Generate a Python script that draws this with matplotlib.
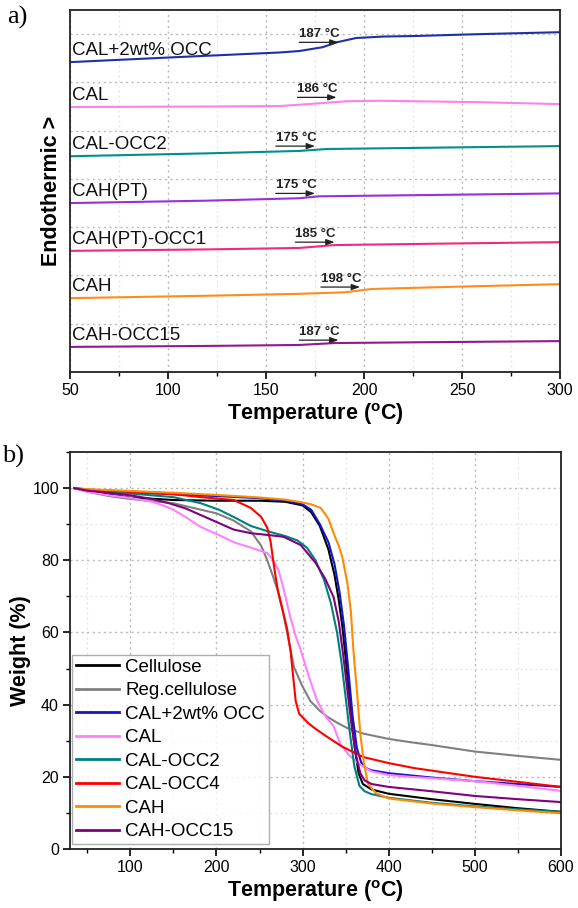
import matplotlib
matplotlib.use("Agg")
import matplotlib.pyplot as plt
from matplotlib.ticker import MultipleLocator

plt.rcParams['font.family'] = ['Liberation Sans', 'DejaVu Sans']
plt.rcParams['mathtext.fontset'] = 'custom'
plt.rcParams['mathtext.rm'] = 'Liberation Sans'
plt.rcParams['mathtext.bf'] = 'Liberation Sans:bold'

# ---------------- DSC (panel a) ----------------
dsc_labels = ["CAL+2wt% OCC", "CAL", "CAL-OCC2", "CAH(PT)", "CAH(PT)-OCC1", "CAH", "CAH-OCC15"]
dsc_colors = ["#1f2fa6", "#ff7ff0", "#008f8a", "#9a2fd8", "#f5267f", "#ff8c1a", "#8e1a8e"]

dsc_T_cal2occ = [50, 108, 157, 167, 179, 186, 196, 210, 225, 259, 300]
dsc_y_cal2occ = [6.42, 6.53, 6.62, 6.65, 6.73, 6.83, 6.92, 6.95, 6.96, 7.00, 7.04]
dsc_T_cal = [50, 120, 157, 175, 191, 208, 259, 300]
dsc_y_cal = [5.49, 5.50, 5.51, 5.56, 5.61, 5.62, 5.59, 5.55]
dsc_T_calocc2 = [50, 120, 167, 181, 240, 300]
dsc_y_calocc2 = [4.47, 4.53, 4.58, 4.62, 4.65, 4.68]
dsc_T_cahpt = [50, 120, 167, 177, 240, 300]
dsc_y_cahpt = [3.50, 3.55, 3.60, 3.64, 3.67, 3.70]
dsc_T_cahptocc1 = [50, 120, 167, 185, 240, 300]
dsc_y_cahptocc1 = [2.51, 2.54, 2.57, 2.63, 2.66, 2.69]
dsc_T_cah = [50, 120, 167, 190, 204, 250, 300]
dsc_y_cah = [1.53, 1.58, 1.62, 1.65, 1.72, 1.77, 1.82]
dsc_T_cahocc15 = [50, 120, 167, 185, 240, 300]
dsc_y_cahocc15 = [0.52, 0.54, 0.56, 0.60, 0.62, 0.64]

dsc_T = [dsc_T_cal2occ, dsc_T_cal, dsc_T_calocc2, dsc_T_cahpt, dsc_T_cahptocc1, dsc_T_cah, dsc_T_cahocc15]
dsc_y = [dsc_y_cal2occ, dsc_y_cal, dsc_y_calocc2, dsc_y_cahpt, dsc_y_cahptocc1, dsc_y_cah, dsc_y_cahocc15]

tg_values = [187, 186, 175, 175, 185, 198, 187]
tg_arrow_y = [6.83, 5.69, 4.68, 3.70, 2.69, 1.76, 0.66]

# ---------------- TGA (panel b) ----------------
tga_labels = ["Cellulose", "Reg.cellulose", "CAL+2wt% OCC", "CAL", "CAL-OCC2", "CAL-OCC4", "CAH", "CAH-OCC15"]
tga_colors = ["#000000", "#808080", "#1414c8", "#ff80ff", "#008080", "#ff0000", "#ff8c00", "#800080"]

T_cell = [35, 50, 75, 100, 150, 200, 250, 280, 300, 310, 320, 330, 337, 342, 346, 350, 355, 360, 365, 370, 380, 400, 450, 500, 550, 600]
W_cell = [100, 99.2, 98.2, 97.4, 96.7, 96.5, 96.5, 96.2, 95.2, 93.3, 89.5, 83, 76, 69, 62, 53, 40, 29, 21, 18, 16.5, 15.3, 13.8, 12.5, 11.3, 10.3]

T_reg = [35, 50, 75, 100, 150, 200, 220, 240, 252, 259, 265, 271, 277, 282, 290, 300, 309, 320, 329, 340, 352, 370, 400, 425, 450, 500, 550, 600]
W_reg = [100, 99, 97.8, 97, 95.8, 93, 91, 88, 84, 80, 76, 71.7, 66, 60, 50.4, 45, 41, 38.3, 36.6, 35, 33.5, 32, 30.5, 29.6, 28.8, 27, 25.8, 24.7]

T_cal2 = [35, 50, 100, 150, 200, 250, 280, 300, 310, 320, 330, 337, 343, 348, 353, 358, 363, 368, 373, 380, 400, 450, 500, 550, 600]
W_cal2 = [100, 99.5, 98.8, 98.3, 97.8, 97.2, 96.5, 95.5, 94, 90, 85, 79, 71, 62, 50, 37, 28, 24, 22.5, 21.8, 21, 19.8, 18.8, 18, 17.2]

T_cal = [35, 50, 75, 100, 125, 137, 150, 164, 182, 203, 220, 240, 259, 266, 272, 277, 282, 286, 292, 298, 307, 317, 326, 336, 344, 354, 364, 380, 400, 425, 450, 500, 550, 600]
W_cal = [100, 99, 98, 97.3, 96.2, 95.3, 94, 92, 89.2, 87, 85, 83.5, 82, 80, 77.3, 73, 68, 64, 59, 55, 48, 41, 37, 34, 29, 26, 23.8, 21.5, 20.5, 20, 19.6, 18.8, 17.5, 16.1]

T_calocc2 = [35, 50, 100, 150, 182, 203, 220, 240, 260, 280, 294, 305, 315, 325, 333, 340, 345, 350, 355, 360, 366, 372, 380, 400, 450, 500, 550, 600]
W_calocc2 = [100, 99.5, 98.5, 97.5, 95.8, 94, 92, 89.5, 88, 86.7, 85.5, 83.5, 80, 74.5, 68, 60, 52, 42, 32, 23, 17.5, 16, 15.2, 14.2, 12.8, 11.8, 11, 10.3]

T_calocc4 = [35, 50, 100, 150, 182, 220, 240, 252, 259, 263, 267, 271, 277, 282, 286, 289, 292, 296, 306, 315, 329, 345, 370, 400, 430, 500, 550, 600]
W_calocc4 = [100, 99.6, 99, 98.3, 97.5, 96.7, 94.5, 92, 89, 85, 78, 72, 66, 61, 55, 48, 41, 37.5, 35, 33.3, 31, 28.5, 25.5, 23.8, 22.4, 20, 18.6, 17.2]

T_cah = [35, 50, 100, 150, 200, 250, 280, 298, 310, 321, 330, 336, 342, 346, 352, 356, 359, 363, 367, 371, 376, 385, 400, 450, 500, 550, 600]
W_cah = [100, 99.7, 99.2, 98.7, 98.1, 97.4, 96.8, 96.1, 95.5, 94.5, 91.5, 87.5, 84, 81, 73.7, 66, 55, 44, 32, 24, 18, 15.5, 14, 12.6, 11.6, 10.7, 9.9]

T_cahocc15 = [35, 50, 75, 100, 125, 145, 165, 182, 203, 220, 240, 260, 278, 298, 315, 326, 336, 342, 347, 352, 357, 362, 367, 372, 380, 400, 450, 500, 550, 600]
W_cahocc15 = [100, 99.3, 98.7, 98, 97, 95.8, 94.3, 92.5, 90.3, 88.5, 87.5, 87, 86.5, 84.2, 79.3, 75, 69.8, 63, 54, 44, 34, 26, 21, 19, 18, 17.2, 16, 14.7, 13.8, 13]

tga_T = [T_cell, T_reg, T_cal2, T_cal, T_calocc2, T_calocc4, T_cah, T_cahocc15]
tga_W = [W_cell, W_reg, W_cal2, W_cal, W_calocc2, W_calocc4, W_cah, W_cahocc15]

# ---------------- figure ----------------
fig = plt.figure(figsize=(5.78, 9.08), dpi=100)
W_PX, H_PX = 578, 908

def ax_rect(l, t, r, b):
    return [l / W_PX, 1 - b / H_PX, (r - l) / W_PX, (b - t) / H_PX]

ax1 = fig.add_axes(ax_rect(70, 10, 560, 372))
ax2 = fig.add_axes(ax_rect(70, 452, 561, 849))

def style_axes(ax):
    for s in ax.spines.values():
        s.set_linewidth(1.3)
        s.set_color("#222222")
    ax.tick_params(which='major', direction='out', length=5, width=1.2, labelsize=11.5, pad=3)
    ax.tick_params(which='minor', direction='out', length=3, width=1.0)
    ax.grid(which='major', linestyle=(0, (1.5, 2.5)), color='#b8b8b8', linewidth=1.0)
    ax.grid(which='minor', linestyle=(0, (1.5, 2.5)), color='#e2e2e2', linewidth=0.9)
    ax.set_axisbelow(True)

LABEL_FS = 15.5
XLABEL = r"Temperature ($\mathbf{^{o}}$C)"

# Panel a
style_axes(ax1)
for T, y, c, lab in zip(dsc_T, dsc_y, dsc_colors, dsc_labels):
    ax1.plot(T, y, color=c, lw=1.5)
    ax1.text(51, y[0] + 0.06, lab, fontsize=13.5, ha='left', va='bottom', color='#111111')
for tg, ay in zip(tg_values, tg_arrow_y):
    ax1.annotate("", xy=(tg, ay), xytext=(tg - 20, ay),
                 arrowprops=dict(arrowstyle='-|>,head_length=0.5,head_width=0.18', color='#222222', lw=0.9,
                                 shrinkA=0, shrinkB=0))
    ax1.text(tg - 20, ay + 0.04, f"{tg} °C", fontsize=9.5, fontweight='bold', ha='left', va='bottom',
             color='#222222')
ax1.set_xlim(50, 300)
ax1.set_ylim(0, 7.5)
ax1.xaxis.set_major_locator(MultipleLocator(50))
ax1.xaxis.set_minor_locator(MultipleLocator(25))
ax1.yaxis.set_major_locator(MultipleLocator(1))
ax1.tick_params(axis='y', which='both', left=False, labelleft=False)
ax1.set_xlabel(XLABEL, fontsize=LABEL_FS, fontweight='bold', labelpad=2)
ax1.set_ylabel("Endothermic >", fontsize=LABEL_FS, fontweight='bold', labelpad=6)

# Panel b
style_axes(ax2)
for T, Wt, c, lab in zip(tga_T, tga_W, tga_colors, tga_labels):
    ax2.plot(T, Wt, color=c, lw=1.5, label=lab)
ax2.set_xlim(30, 600)
ax2.set_ylim(0, 110)
ax2.xaxis.set_major_locator(MultipleLocator(100))
ax2.xaxis.set_minor_locator(MultipleLocator(50))
ax2.yaxis.set_major_locator(MultipleLocator(20))
ax2.yaxis.set_minor_locator(MultipleLocator(10))
ax2.set_xlabel(XLABEL, fontsize=LABEL_FS, fontweight='bold', labelpad=2)
ax2.set_ylabel("Weight (%)", fontsize=LABEL_FS, fontweight='bold', labelpad=1)
leg = ax2.legend(loc='lower left', bbox_to_anchor=(0.004, 0.012), borderaxespad=0,
                 fontsize=13.5, frameon=True, fancybox=False, edgecolor='#9a9a9a',
                 handlelength=2.3, handletextpad=0.35, labelspacing=0.34, borderpad=0.2)
leg.get_frame().set_linewidth(1.0)
for h in leg.get_lines():
    h.set_linewidth(2.0)

fig.text(0.012, 0.994, "a)", fontsize=19, family=['Liberation Serif', 'DejaVu Serif'], ha='left', va='top')
fig.text(0.004, 0.510, "b)", fontsize=19, family=['Liberation Serif', 'DejaVu Serif'], ha='left', va='top')

fig.savefig("out.png", dpi=100)
